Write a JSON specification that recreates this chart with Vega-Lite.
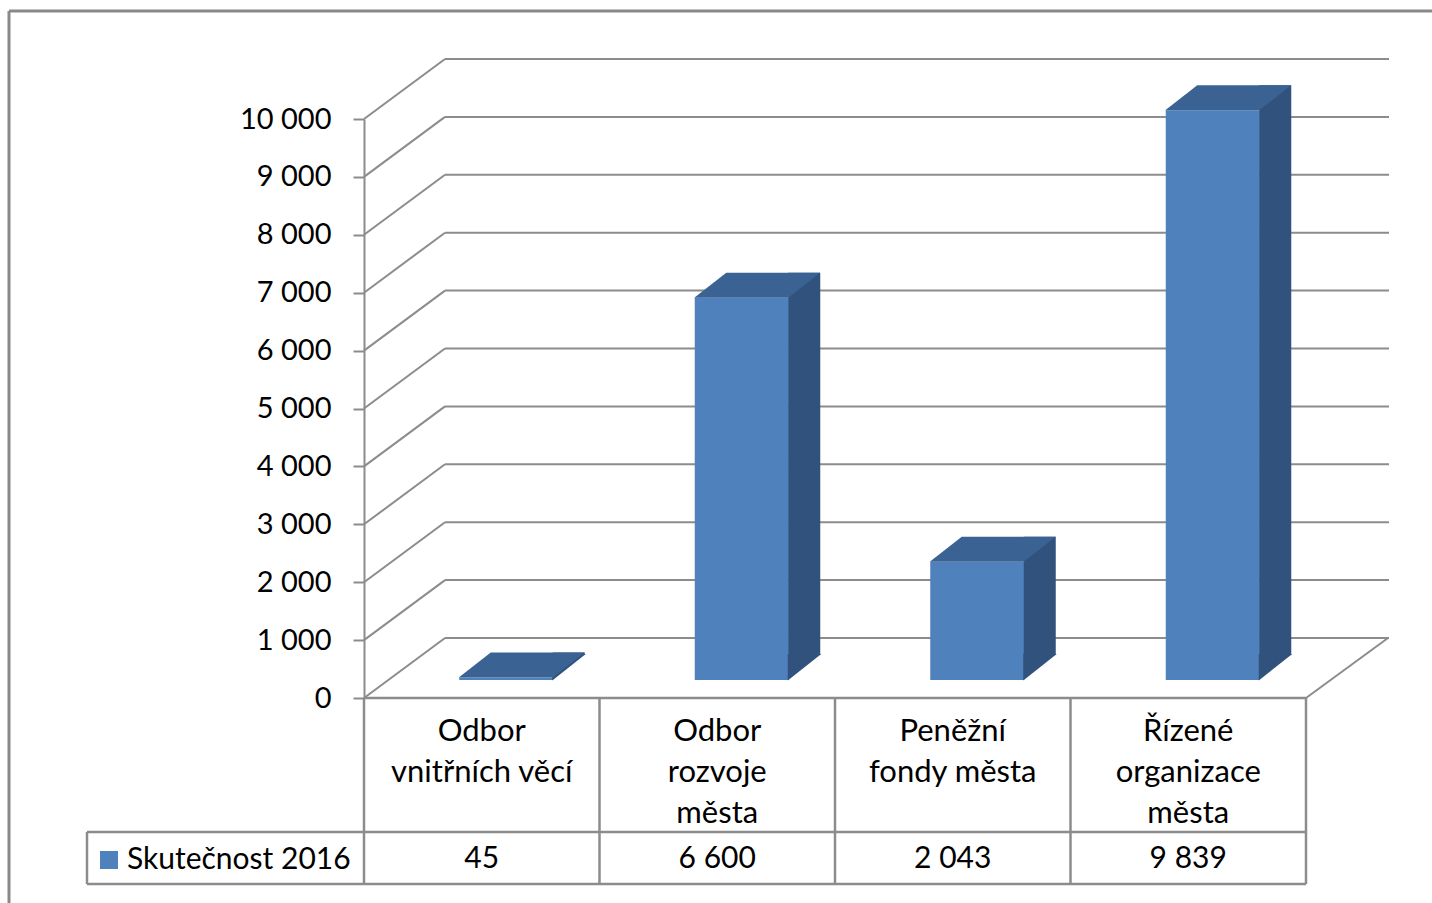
{
  "$schema": "https://vega.github.io/schema/vega-lite/v6.json",
  "width": 942,
  "height": 579,
  "autosize": "none",
  "padding": {"left": 364, "top": 119, "right": 126, "bottom": 205},
  "background": "white",
  "config": {
    "font": "Lato",
    "view": {"stroke": null},
    "locale": {"number": {"decimal": ",", "thousands": " ", "grouping": [3], "currency": ["", " Kč"]}},
    "scale": {"bandPaddingInner": 0, "bandPaddingOuter": 0, "barBandPaddingInner": 0, "rectBandPaddingInner": 0},
    "axisY": {
      "grid": false, "labelFontSize": 29, "labelColor": "#000000", "labelFont": "Lato",
      "tickSize": 11, "tickColor": "#8c8c8c", "tickWidth": 2, "domainColor": "#8c8c8c", "domainWidth": 2,
      "labelPadding": 22
    }
  },
  "datasets": {
    "bars": [
      {"cat": "Odbor vnitřních věcí", "label": "Odbor\nvnitřních věcí", "value": 45, "series": "Skutečnost 2016"},
      {"cat": "Odbor rozvoje města", "label": "Odbor\nrozvoje\nměsta", "value": 6600, "series": "Skutečnost 2016"},
      {"cat": "Peněžní fondy města", "label": "Peněžní\nfondy města", "value": 2043, "series": "Skutečnost 2016"},
      {"cat": "Řízené organizace města", "label": "Řízené\norganizace\nměsta", "value": 9839, "series": "Skutečnost 2016"}
    ],
    "ticks": [
      {"tick": 0}, {"tick": 1000}, {"tick": 2000}, {"tick": 3000}, {"tick": 4000}, {"tick": 5000},
      {"tick": 6000}, {"tick": 7000}, {"tick": 8000}, {"tick": 9000}, {"tick": 10000}
    ],
    "frame": [{"part": "frame"}]
  },
  "layer": [
    {
      "data": {"name": "ticks"},
      "mark": {"type": "rule", "color": "#8c8c8c", "strokeWidth": 2, "xOffset": 81, "x2Offset": 83, "yOffset": -60},
      "encoding": {
        "x": {"datum": "Odbor vnitřních věcí", "type": "nominal", "bandPosition": 0, "axis": null,
              "scale": {"domain": ["Odbor vnitřních věcí", "Odbor rozvoje města", "Peněžní fondy města", "Řízené organizace města"], "paddingInner": 0, "paddingOuter": 0}},
        "x2": {"datum": "Řízené organizace města", "bandPosition": 1},
        "y": {"field": "tick", "type": "quantitative",
              "scale": {"domain": [0, 10000], "nice": false},
              "axis": {"values": [0, 1000, 2000, 3000, 4000, 5000, 6000, 7000, 8000, 9000, 10000], "format": ",.0f", "title": null}}
      }
    },
    {
      "data": {"name": "frame"},
      "mark": {"type": "rule", "color": "#898989", "strokeWidth": 3, "xOffset": -355, "x2Offset": 200, "yOffset": -108},
      "encoding": {
        "x": {"datum": "Odbor vnitřních věcí", "type": "nominal", "bandPosition": 0, "axis": null},
        "x2": {"datum": "Řízené organizace města", "bandPosition": 1},
        "y": {"datum": 10000, "type": "quantitative"}
      }
    },
    {
      "data": {"name": "frame"},
      "mark": {"type": "rule", "color": "#898989", "strokeWidth": 3, "xOffset": -355, "yOffset": -108, "y2Offset": 300},
      "encoding": {
        "x": {"datum": "Odbor vnitřních věcí", "type": "nominal", "bandPosition": 0, "axis": null},
        "y": {"datum": 10000, "type": "quantitative"},
        "y2": {"datum": 0}
      }
    },
    {
      "data": {"name": "ticks"},
      "mark": {"type": "rule", "color": "#8c8c8c", "strokeWidth": 2, "x2Offset": 81, "y2Offset": -60},
      "encoding": {
        "x": {"datum": "Odbor vnitřních věcí", "type": "nominal", "bandPosition": 0, "axis": null},
        "x2": {"datum": "Odbor vnitřních věcí", "bandPosition": 0},
        "y": {"field": "tick", "type": "quantitative"},
        "y2": {"field": "tick"}
      }
    },
    {
      "data": {"name": "frame"},
      "mark": {"type": "rule", "color": "#8c8c8c", "strokeWidth": 2, "x2Offset": 82, "y2Offset": -60},
      "encoding": {
        "x": {"datum": "Řízené organizace města", "type": "nominal", "bandPosition": 1, "axis": null},
        "x2": {"datum": "Řízené organizace města", "bandPosition": 1},
        "y": {"datum": 0, "type": "quantitative"},
        "y2": {"datum": 0}
      }
    },
    {
      "data": {"name": "bars"},
      "mark": {"type": "rule", "color": "#8c8c8c", "strokeWidth": 2.5, "y2Offset": 186},
      "encoding": {
        "x": {"field": "cat", "type": "nominal", "bandPosition": 0, "axis": null},
        "y": {"datum": 0, "type": "quantitative"},
        "y2": {"datum": 0}
      }
    },
    {
      "data": {"name": "frame"},
      "mark": {"type": "rule", "color": "#8c8c8c", "strokeWidth": 2.5, "y2Offset": 186},
      "encoding": {
        "x": {"datum": "Řízené organizace města", "type": "nominal", "bandPosition": 1, "axis": null},
        "y": {"datum": 0, "type": "quantitative"},
        "y2": {"datum": 0}
      }
    },
    {
      "data": {"name": "frame"},
      "mark": {"type": "rule", "color": "#8c8c8c", "strokeWidth": 2.5},
      "encoding": {
        "x": {"datum": "Odbor vnitřních věcí", "type": "nominal", "bandPosition": 0, "axis": null},
        "x2": {"datum": "Řízené organizace města", "bandPosition": 1},
        "y": {"datum": 0, "type": "quantitative"}
      }
    },
    {
      "data": {"name": "frame"},
      "mark": {"type": "rule", "color": "#8c8c8c", "strokeWidth": 2.5, "xOffset": -277, "yOffset": 134},
      "encoding": {
        "x": {"datum": "Odbor vnitřních věcí", "type": "nominal", "bandPosition": 0, "axis": null},
        "x2": {"datum": "Řízené organizace města", "bandPosition": 1},
        "y": {"datum": 0, "type": "quantitative"}
      }
    },
    {
      "data": {"name": "frame"},
      "mark": {"type": "rule", "color": "#8c8c8c", "strokeWidth": 2.5, "xOffset": -277, "yOffset": 186},
      "encoding": {
        "x": {"datum": "Odbor vnitřních věcí", "type": "nominal", "bandPosition": 0, "axis": null},
        "x2": {"datum": "Řízené organizace města", "bandPosition": 1},
        "y": {"datum": 0, "type": "quantitative"}
      }
    },
    {
      "data": {"name": "frame"},
      "mark": {"type": "rule", "color": "#8c8c8c", "strokeWidth": 2.5, "xOffset": -277, "yOffset": 134, "y2Offset": 186},
      "encoding": {
        "x": {"datum": "Odbor vnitřních věcí", "type": "nominal", "bandPosition": 0, "axis": null},
        "y": {"datum": 0, "type": "quantitative"},
        "y2": {"datum": 0}
      }
    },
    {
      "data": {"name": "bars"},
      "mark": {"type": "bar", "width": 94, "xOffset": 24.5, "yOffset": -18, "y2Offset": -18, "opacity": 1},
      "encoding": {
        "x": {"field": "cat", "type": "nominal", "axis": null},
        "y": {"field": "value", "type": "quantitative", "stack": null},
        "y2": {"datum": 0},
        "color": {"field": "series", "type": "nominal",
                  "scale": {"domain": ["Skutečnost 2016"], "range": ["#4f81bd"]},
                  "legend": {"orient": "none", "legendX": -270, "legendY": 726, "title": null, "padding": 0,
                             "symbolType": "square", "symbolSize": 324, "symbolStrokeWidth": 0, "labelLimit": 500,
                             "labelFontSize": 30, "labelColor": "#000000", "labelFont": "Lato", "labelOffset": 3}}
      }
    },
    {
      "data": {"name": "bars"},
      "mark": {"type": "bar", "width": 32, "xOffset": 87, "yOffset": -43, "y2Offset": -43, "color": "#30527c", "opacity": 1},
      "encoding": {
        "x": {"field": "cat", "type": "nominal", "axis": null},
        "y": {"field": "value", "type": "quantitative", "stack": null},
        "y2": {"datum": 0}
      }
    },
    {
      "data": {"name": "bars"},
      "mark": {"type": "point", "shape": "M70.5,-17.5 L70.5,-44 L104,-44 Z", "size": 4, "filled": true, "color": "#30527c", "opacity": 1, "strokeWidth": 0},
      "encoding": {
        "x": {"field": "cat", "type": "nominal", "axis": null},
        "y": {"datum": 0, "type": "quantitative"}
      }
    },
    {
      "data": {"name": "bars"},
      "mark": {"type": "point", "shape": "M-23,-18 L9,-43 L103,-43 L71,-18 Z", "size": 4, "filled": true, "color": "#3a6293", "opacity": 1, "strokeWidth": 0},
      "encoding": {
        "x": {"field": "cat", "type": "nominal", "axis": null},
        "y": {"field": "value", "type": "quantitative"}
      }
    },
    {
      "data": {"name": "bars"},
      "mark": {"type": "text", "fontSize": 31, "font": "Lato", "color": "#000000", "align": "center", "baseline": "middle", "lineBreak": "\n", "lineHeight": 41, "yOffset": 34},
      "encoding": {
        "x": {"field": "cat", "type": "nominal", "axis": null},
        "y": {"datum": 0, "type": "quantitative"},
        "text": {"field": "label"}
      }
    },
    {
      "data": {"name": "bars"},
      "mark": {"type": "text", "fontSize": 30, "font": "Lato", "color": "#000000", "align": "center", "baseline": "middle", "yOffset": 161},
      "encoding": {
        "x": {"field": "cat", "type": "nominal", "axis": null},
        "y": {"datum": 0, "type": "quantitative"},
        "text": {"field": "value", "type": "quantitative", "format": ","}
      }
    }
  ]
}
